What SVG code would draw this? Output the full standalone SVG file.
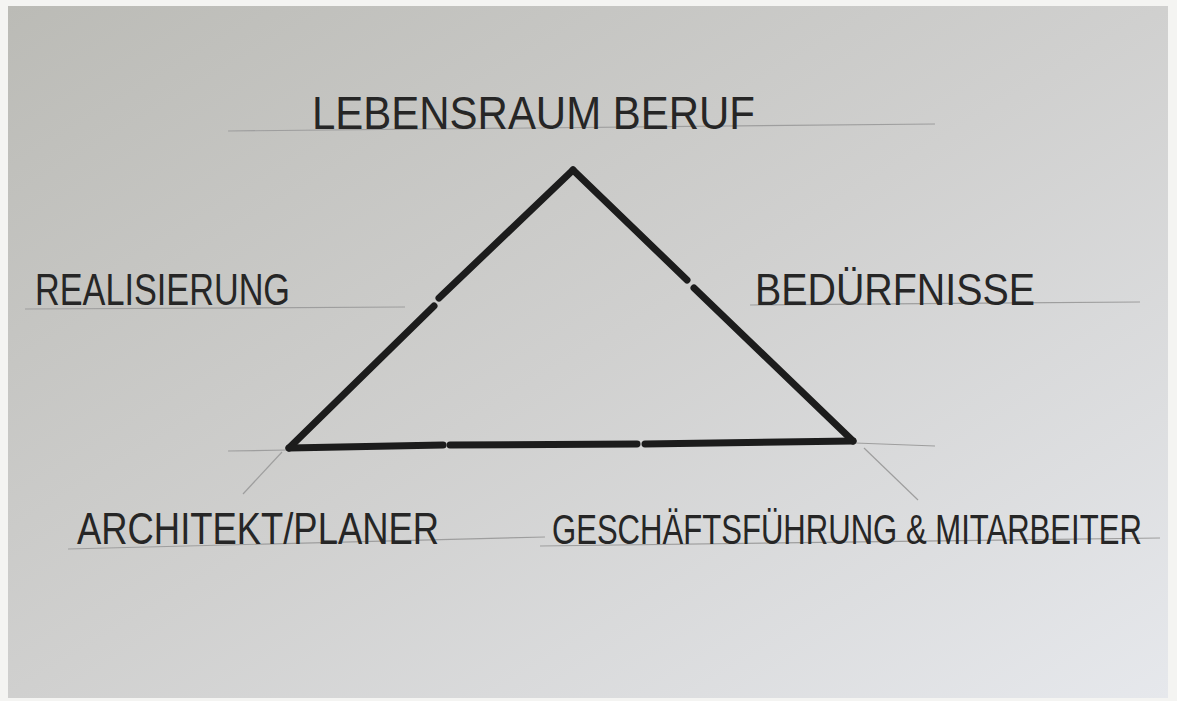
<svg xmlns="http://www.w3.org/2000/svg" width="1177" height="701" viewBox="0 0 1177 701">
  <defs>
    <linearGradient id="paper" x1="0" y1="0" x2="1" y2="1">
      <stop offset="0" stop-color="#bbbbb6"/>
      <stop offset="0.5" stop-color="#d0d0cf"/>
      <stop offset="1" stop-color="#e6e8ec"/>
    </linearGradient>
  </defs>
  <style>
    .lbl { font-family: "Liberation Sans", Arial, sans-serif; fill: #262626; }
    .guide { stroke: #9e9e9e; stroke-width: 1.2; fill: none; }
    .pen { stroke: #1c1c1c; stroke-width: 7; stroke-linecap: round; fill: none; }
  </style>
  <rect x="0" y="0" width="1177" height="701" fill="#f4f4f2"/>
  <rect x="8" y="6" width="1160" height="692" fill="url(#paper)"/>

  <g id="connectors">
    <path class="guide" d="M228 131 L935 124"/>
    <path class="guide" d="M25 309 L405 307"/>
    <path class="guide" d="M750 305 L1140 302"/>
    <path class="guide" d="M228 451 L288 450"/>
    <path class="guide" d="M282 452 L243 494"/>
    <path class="guide" d="M855 443 L935 446"/>
    <path class="guide" d="M864 448 L918 500"/>
    <path class="guide" d="M68 549 L545 537"/>
    <path class="guide" d="M540 546 L1160 538"/>
    <path class="pen" d="M573 170 L439 298"/>
    <path class="pen" d="M434 306 L289 448"/>
    <path class="pen" d="M289 448 L443 445"/>
    <path class="pen" d="M450 445 L637 444"/>
    <path class="pen" d="M645 444 L853 441"/>
    <path class="pen" d="M853 441 L694 288"/>
    <path class="pen" d="M687 280 L573 170"/>
  </g>

  <g id="node-lebensraum">
    <text class="lbl" x="312" y="129" font-size="46" textLength="443" lengthAdjust="spacingAndGlyphs">LEBENSRAUM BERUF</text>
  </g>
  <g id="node-realisierung">
    <text class="lbl" x="35" y="305" font-size="44" textLength="255" lengthAdjust="spacingAndGlyphs">REALISIERUNG</text>
  </g>
  <g id="node-beduerfnisse">
    <text class="lbl" x="755" y="305" font-size="44" textLength="280" lengthAdjust="spacingAndGlyphs">BEDÜRFNISSE</text>
  </g>
  <g id="node-architekt">
    <text class="lbl" x="77" y="544" font-size="44" textLength="362" lengthAdjust="spacingAndGlyphs">ARCHITEKT/PLANER</text>
  </g>
  <g id="node-geschaeftsfuehrung">
    <text class="lbl" transform="translate(552 544) scale(0.74 1)" x="0" y="0" font-size="42">GESCHÄFTSFÜHRUNG &amp; MITARBEITER</text>
  </g>
</svg>
